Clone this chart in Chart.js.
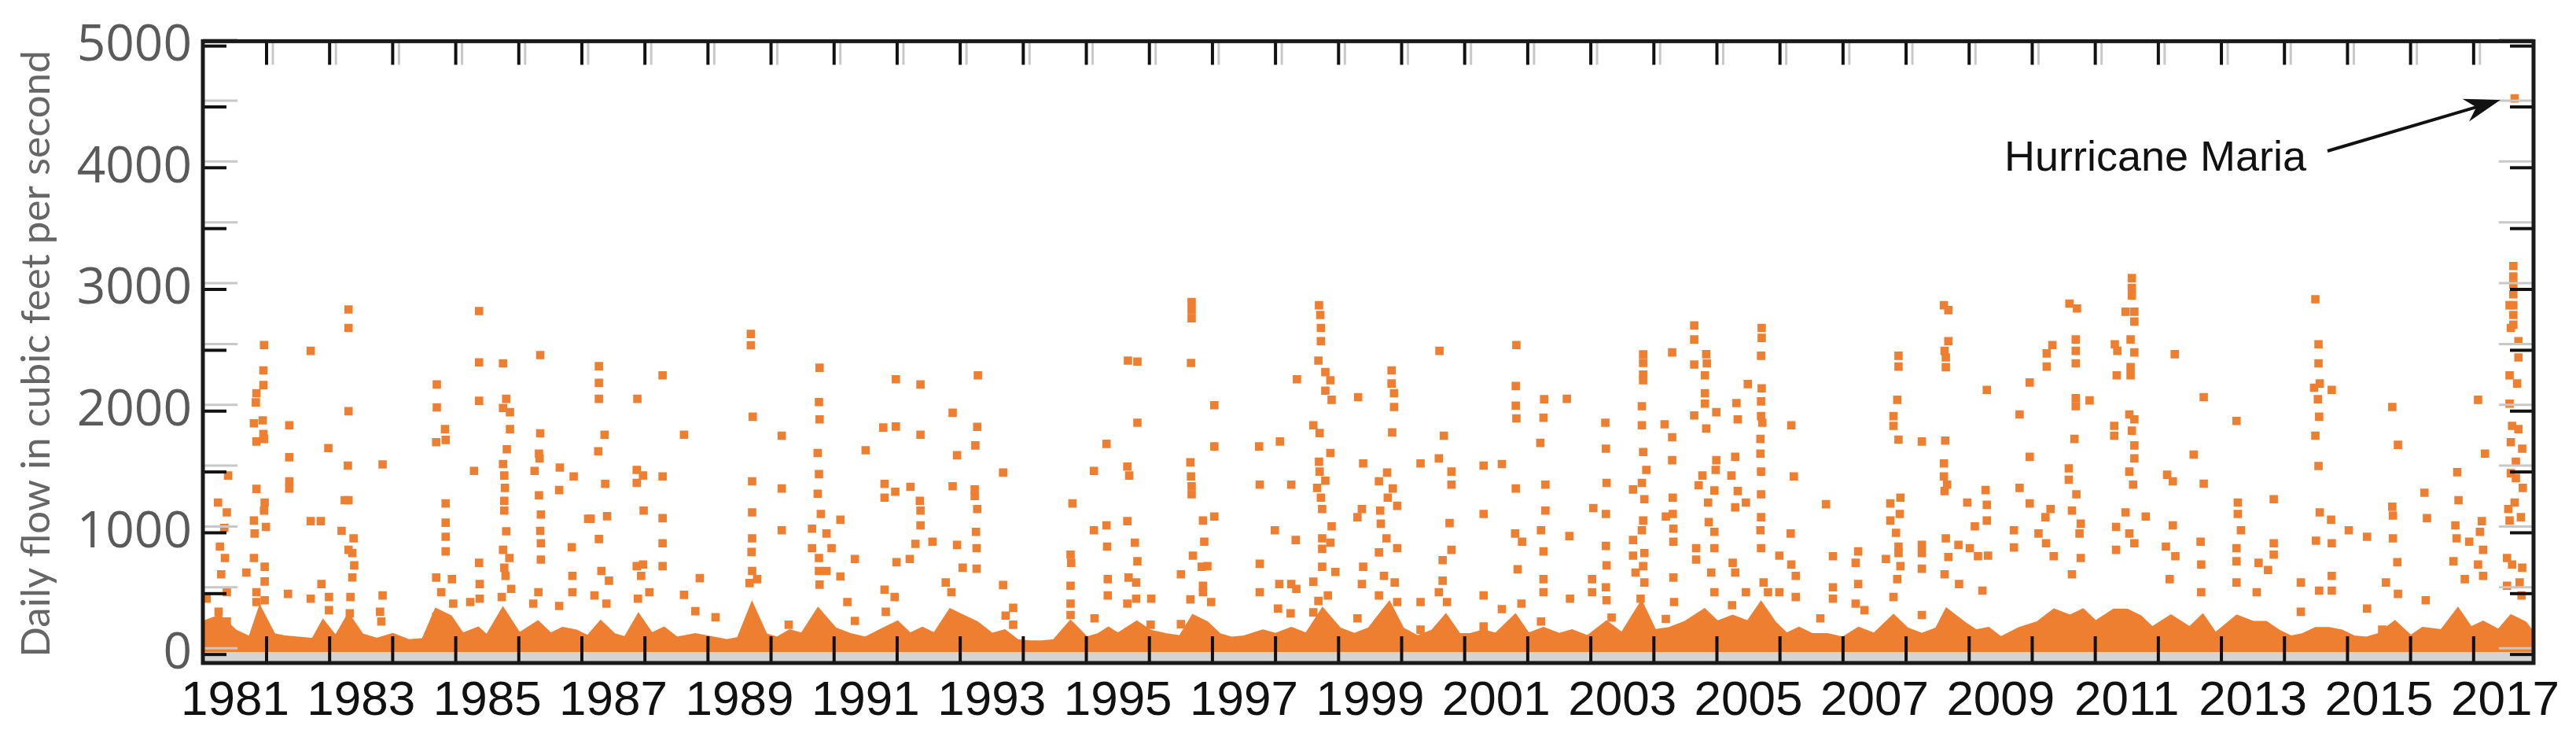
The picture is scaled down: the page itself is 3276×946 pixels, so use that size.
<!DOCTYPE html>
<html><head><meta charset="utf-8">
<script src="https://cdn.jsdelivr.net/npm/chart.js@4/dist/chart.umd.min.js"></script>
<style>html,body{margin:0;padding:0;background:#fff}#wrap{width:3276px;height:946px}</style>
</head><body><div id="wrap"><canvas id="c" width="3276" height="946"></canvas></div>
<script>
// ---- DATA (decimal year, cubic feet per second) ----
const yearLabels = [1981,1983,1985,1987,1989,1991,1993,1995,1997,1999,2001,2003,2005,2007,2009,2011,2013,2015,2017];
const flowTicks = [0,1000,2000,3000,4000,5000];
const hurricaneMaria = [[2017.15,4570]];
const baseflowTop = [[1980.49,250],[1980.75,300],[1981.0,180],[1981.25,120],[1981.4,350],[1981.6,150],[1981.8,130],[1982.0,120],[1982.25,110],[1982.4,250],[1982.6,120],[1982.8,300],[1983.0,150],[1983.25,110],[1983.5,150],[1983.75,100],[1984.0,110],[1984.2,350],[1984.4,300],[1984.6,150],[1984.85,200],[1985.0,130],[1985.25,350],[1985.5,150],[1985.8,250],[1986.0,150],[1986.2,200],[1986.4,180],[1986.6,130],[1986.8,250],[1987.0,150],[1987.2,120],[1987.4,300],[1987.6,150],[1987.8,200],[1988.0,120],[1988.3,150],[1988.6,120],[1988.8,100],[1989.0,120],[1989.2,380],[1989.4,150],[1989.6,120],[1989.8,180],[1990.0,150],[1990.25,350],[1990.5,200],[1990.75,150],[1991.0,120],[1991.3,200],[1991.5,250],[1991.7,150],[1991.9,200],[1992.1,150],[1992.35,350],[1992.55,300],[1992.75,250],[1993.0,150],[1993.2,180],[1993.4,100],[1993.6,90],[1993.8,90],[1994.0,100],[1994.25,250],[1994.5,120],[1994.7,150],[1994.85,200],[1995.0,150],[1995.3,250],[1995.5,180],[1995.75,150],[1996.0,130],[1996.2,300],[1996.4,250],[1996.6,150],[1996.8,120],[1997.0,130],[1997.3,180],[1997.5,150],[1997.75,200],[1998.0,150],[1998.25,350],[1998.5,200],[1998.75,150],[1999.0,200],[1999.3,400],[1999.5,200],[1999.75,130],[2000.0,180],[2000.2,300],[2000.4,150],[2000.6,150],[2000.8,180],[2001.0,150],[2001.3,300],[2001.5,150],[2001.75,200],[2002.0,150],[2002.2,180],[2002.45,130],[2002.75,250],[2003.0,150],[2003.3,400],[2003.5,180],[2003.75,200],[2004.0,250],[2004.3,350],[2004.5,250],[2004.75,300],[2005.0,250],[2005.2,400],[2005.4,250],[2005.6,150],[2005.8,200],[2006.0,150],[2006.25,150],[2006.5,120],[2006.75,200],[2007.0,150],[2007.3,300],[2007.5,200],[2007.75,150],[2008.0,200],[2008.15,350],[2008.4,250],[2008.6,180],[2008.8,200],[2009.0,120],[2009.3,200],[2009.6,250],[2009.85,350],[2010.1,300],[2010.3,350],[2010.5,250],[2010.8,350],[2011.0,350],[2011.2,300],[2011.4,200],[2011.7,300],[2012.0,200],[2012.2,300],[2012.4,150],[2012.75,300],[2013.0,250],[2013.2,250],[2013.4,180],[2013.6,130],[2013.8,150],[2014.0,200],[2014.2,200],[2014.4,180],[2014.6,130],[2014.8,120],[2015.0,150],[2015.25,250],[2015.5,130],[2015.7,200],[2016.0,180],[2016.25,350],[2016.45,200],[2016.65,250],[2016.9,180],[2017.1,300],[2017.3,250],[2017.45,150]];
const highFlowDays = [
[1980.89,1471],[1980.73,1249],[1980.87,1168],[1980.83,1040],[1980.76,887],[1980.84,793],[1980.78,659],[1980.87,512],[1980.55,458],[1980.74,351],[1980.87,271],
[1981.46,2543],[1981.45,2334],[1981.45,2214],[1981.34,2147],[1981.33,2072],[1981.44,1924],[1981.30,1900],[1981.45,1812],[1981.34,1750],[1981.46,1771],[1981.34,1361],[1981.47,1249],[1981.46,1182],[1981.30,1101],[1981.31,994],[1981.49,1048],[1981.30,793],[1981.47,721],[1981.18,673],[1981.47,600],[1981.34,512],[1981.47,445],[1981.34,431],
[1981.86,1884],[1981.86,1621],[1981.86,1423],[1981.86,1364],[1981.84,498],[1982.20,2495],[1982.20,1096],[1982.36,1096],[1982.20,458],[1982.48,1696],[1982.37,579],[1982.49,472],[1982.49,364],
[1982.80,2835],[1982.80,2683],[1982.80,1999],[1982.79,1552],[1982.74,1268],[1982.80,1268],[1982.69,1016],[1982.88,954],[1982.80,860],[1982.86,833],[1982.89,732],[1982.86,633],[1982.83,472],[1982.82,338],
[1983.34,1562],[1983.34,485],[1983.30,351],[1983.32,271],
[1984.20,2219],[1984.20,2031],[1984.33,1852],[1984.19,1745],[1984.34,1763],[1984.34,1241],[1984.34,1083],[1984.34,967],[1984.34,847],[1984.19,632],[1984.44,619],[1984.27,512],[1984.46,418],[1984.19,311],
[1984.87,2822],[1984.87,2401],[1984.87,2085],[1984.79,1509],[1984.87,753],[1984.88,579],[1984.88,458],[1984.73,431],
[1985.25,2393],[1985.30,2101],[1985.25,2026],[1985.36,1991],[1985.36,1852],[1985.31,1686],[1985.25,1565],[1985.27,1471],[1985.28,1369],[1985.27,1262],[1985.27,1182],[1985.30,1013],[1985.25,860],[1985.35,793],[1985.27,713],[1985.29,646],[1985.38,539],[1985.23,472],
[1985.84,2460],[1985.84,1817],[1985.82,1651],[1985.83,1611],[1985.75,1509],[1985.82,1308],[1985.85,1150],[1985.84,1016],[1985.85,914],[1985.85,780],[1985.81,512],[1985.73,418],
[1986.15,1536],[1986.14,1351],[1986.37,1463],[1986.34,882],[1986.35,646],[1986.35,512],[1986.14,399],[1986.60,1115],
[1986.77,2369],[1986.77,2232],[1986.77,2101],[1986.86,1806],[1986.76,1670],[1986.87,1402],[1986.90,1136],[1986.77,949],[1986.81,686],[1986.93,606],[1986.70,485],[1986.89,418],[1986.64,1115],
[1987.38,2101],[1987.37,1517],[1987.47,1471],[1987.37,1410],[1987.48,1182],[1987.37,726],[1987.47,740],[1987.44,646],[1987.57,512],[1987.39,458],
[1987.78,2294],[1987.78,1463],[1987.78,1120],[1987.78,914],[1987.78,726],[1988.12,1806],[1988.37,627],[1988.12,490],[1988.30,356],[1988.62,306],
[1989.18,2634],[1989.18,2541],[1989.21,1954],[1989.20,1423],[1989.20,1168],[1989.20,954],[1989.19,842],[1989.20,686],[1989.28,619],[1989.16,587],
[1989.67,1798],[1989.67,1364],[1989.67,1021],[1989.78,244],
[1990.27,2356],[1990.26,2074],[1990.27,1932],[1990.24,1656],[1990.26,1482],[1990.24,1321],[1990.29,1155],[1990.15,1034],[1990.38,994],[1990.60,1107],[1990.46,874],[1990.15,874],[1990.26,793],[1990.26,686],[1990.38,686],[1990.60,641],[1990.27,574],
[1990.83,785],[1990.71,431],[1990.83,276],[1991.00,1678],
[1991.48,2262],[1991.28,1865],[1991.48,1873],[1991.30,1402],[1991.47,1337],[1991.30,1289],[1991.49,758],[1991.30,533],[1991.32,351],[1991.46,472],
[1991.87,2219],[1991.87,1806],[1991.71,1378],[1991.86,1262],[1991.87,1182],[1991.87,1061],[1991.79,909],[1992.06,927],[1991.70,785],
[1992.38,1986],[1992.45,1637],[1992.38,1383],[1992.45,900],[1992.54,713],[1992.27,592],[1992.36,512],
[1992.78,2294],[1992.77,1871],[1992.74,1718],[1992.73,1356],[1992.73,1302],[1992.77,1195],[1992.75,1008],[1992.76,874],[1992.76,705],
[1993.18,1495],[1993.18,571],[1993.22,319],[1993.34,383],[1993.34,244],
[1994.28,1241],[1994.25,820],[1994.26,753],[1994.25,565],[1994.25,418],[1994.25,324],[1994.62,1509],[1994.62,1021],[1994.63,297],
[1994.82,1731],[1994.82,1061],[1994.83,887],[1994.84,619],[1994.84,485],
[1995.16,2415],[1995.31,2407],[1995.31,1905],[1995.15,1544],[1995.18,1471],[1995.15,1096],[1995.27,919],[1995.31,766],[1995.17,632],[1995.29,592],[1995.15,418],[1995.29,458],[1995.53,458],[1995.52,244],
[1996.17,2897],[1996.17,2830],[1996.17,2763],[1996.16,2396],[1996.15,1579],[1996.16,1463],[1996.17,1383],[1996.17,1316],
[1996.53,2048],[1996.53,1710],[1996.53,1134],[1996.35,1101],[1996.37,927],[1996.19,812],[1996.33,721],[1996.42,726],[1996.35,565],[1996.35,512],[1996.00,659],[1996.15,453],[1996.48,431],[1996.00,249],
[1997.24,1710],[1997.25,1396],[1997.25,745],[1997.25,512],[1997.49,1021],[1997.57,1750],[1997.75,1396],[1997.82,941],[1997.56,579],[1997.75,579],[1997.83,539],[1997.54,378],[1997.74,338],
[1998.19,2870],[1998.21,2790],[1998.22,2683],[1998.22,2575],[1998.18,2415],[1998.29,2321],[1998.37,2254],[1997.84,2262],[1998.29,2168],[1998.39,2093],[1998.10,1884],[1998.20,1820],[1998.37,1656],[1998.19,1584],[1998.20,1503],[1998.29,1428],[1998.16,1369],[1998.22,1289],[1998.24,1195],[1998.39,1053],[1998.24,954],[1998.37,919],[1998.24,868],[1998.24,721],[1998.45,678],[1998.10,598],[1998.33,485],[1998.18,440],[1998.10,346],
[1998.81,2115],[1998.89,1570],[1998.87,1195],[1998.80,1128],[1998.89,721],[1998.87,579],[1998.80,297],
[1999.34,2334],[1999.34,2227],[1999.38,2147],[1999.38,2034],[1999.35,1825],[1999.27,1495],[1999.14,1423],[1999.36,1364],[1999.28,1289],[1999.43,1222],[1999.16,1182],[1999.17,1075],[1999.26,954],[1999.43,874],[1999.14,839],[1999.22,646],[1999.39,592],[1999.14,485],[1999.43,431],
[1999.80,1570],[1999.80,431],[1999.80,204],
[2000.10,2495],[2000.17,1798],[2000.09,1611],[2000.29,1503],[2000.29,1396],[2000.26,1080],[2000.29,860],[2000.15,775],[2000.15,606],[2000.09,512],[2000.22,431],
[2000.80,1552],[2001.09,1565],[2000.80,1155],[2000.80,485],[2000.80,230],[2001.09,373],
[2001.32,2543],[2001.31,2206],[2001.31,2045],[2001.32,1940],[2001.31,1364],[2001.30,994],[2001.41,927],[2001.34,700],[2001.40,418],
[2001.76,2098],[2001.75,1946],[2001.70,1739],[2001.78,1396],[2001.78,1182],[2001.71,1021],[2001.75,847],[2001.75,619],[2001.75,512],[2001.71,271],
[2002.12,2101],[2002.16,973],[2002.17,458],[2002.54,1203],[2002.52,619],[2002.52,512],
[2002.73,1905],[2002.74,1691],[2002.75,1410],[2002.74,1155],[2002.74,892],[2002.75,732],[2002.74,552],[2002.75,445],[2002.83,303],
[2003.33,2466],[2003.33,2396],[2003.33,2300],[2003.33,2254],[2003.31,2040],[2003.31,1884],[2003.33,1664],[2003.38,1517],[2003.31,1410],[2003.17,1356],[2003.35,1276],[2003.33,1101],[2003.31,1021],[2003.17,941],[2003.35,833],[2003.17,812],[2003.33,726],[2003.21,673],[2003.35,592],[2003.29,458],
[2003.79,2482],[2003.67,1892],[2003.79,1785],[2003.79,1597],[2003.80,1289],[2003.69,1134],[2003.80,1155],[2003.81,1034],[2003.81,927],[2003.81,632],[2003.82,431],[2003.69,292],
[2004.14,2704],[2004.14,2589],[2004.33,2468],[2004.14,2383],[2004.34,2393],[2004.31,2294],[2004.31,2147],[2004.31,2061],[2004.14,1964],[2004.49,1991],[2004.33,1857],[2004.49,1597],[2004.27,1471],[2004.48,1517],[2004.21,1391],[2004.46,1348],[2004.36,1249],[2004.37,1088],[2004.46,1008],[2004.17,874],[2004.46,874],[2004.17,780],[2004.41,673],[2004.46,512],
[2004.81,2066],[2004.83,1932],[2004.99,2222],[2004.79,1624],[2004.73,1471],[2004.83,1343],[2004.79,1209],[2004.96,1249],[2004.75,753],[2004.79,673],[2004.74,405],[2004.96,512],
[2005.21,2683],[2005.21,2602],[2005.20,2455],[2005.21,2187],[2005.20,2080],[2005.20,1959],[2005.22,1905],[2005.19,1771],[2005.19,1651],[2005.20,1503],[2005.20,1316],[2005.20,1128],[2005.19,1021],[2005.20,874],[2005.24,592],[2005.31,512],
[2005.68,1884],[2005.72,1463],[2005.67,994],[2005.49,812],[2005.68,740],[2005.75,646],[2005.75,472],[2005.49,512],
[2006.23,1235],[2006.34,807],[2006.34,552],[2006.34,458],[2006.14,297],[2006.74,847],[2006.70,753],[2006.74,579],[2006.70,418],[2006.84,364],
[2007.38,2455],[2007.38,2366],[2007.36,2093],[2007.30,1959],[2007.30,1879],[2007.38,1766],[2007.41,1289],[2007.25,1241],[2007.40,1155],[2007.25,1101],[2007.34,1000],[2007.38,887],[2007.38,833],[2007.18,785],[2007.41,726],[2007.36,619],[2007.30,472],
[2007.75,1750],[2007.75,900],[2007.75,833],[2007.75,705],[2007.75,324],
[2008.10,2870],[2008.17,2830],[2008.17,2575],[2008.11,2495],[2008.13,2441],[2008.13,2361],[2008.12,1758],[2008.10,1570],[2008.10,1463],[2008.15,1396],[2008.11,1343],[2008.13,954],[2008.33,900],[2008.51,874],[2008.64,807],[2008.17,801],[2008.11,659],[2008.34,579],[2008.47,1249],[2008.59,1053],
[2008.78,2174],[2008.76,1351],[2008.78,1230],[2008.78,1101],[2008.80,812],[2008.71,525],
[2009.46,2235],[2009.30,1972],[2009.46,1624],[2009.30,1369],[2009.46,1241],[2009.21,1021],[2009.21,879],[2009.60,994],[2009.72,914],
[2009.73,2474],[2009.82,2543],[2009.73,2366],[2009.79,1195],[2009.71,1128],[2009.84,807],
[2010.09,2884],[2010.21,2843],[2010.19,2589],[2010.19,2495],[2010.19,2393],[2010.19,2107],[2010.19,2040],[2010.41,2088],[2010.17,1771],[2010.08,1530],[2010.08,1436],[2010.20,1316],[2010.13,1182],[2010.27,1075],[2010.25,994],[2010.27,793],[2010.13,659],
[2011.08,3093],[2011.08,3013],[2011.08,2951],[2011.12,2817],[2010.98,2817],[2011.12,2736],[2010.81,2549],[2010.85,2495],[2011.12,2482],[2010.84,2294],[2011.06,2589],[2011.06,2361],[2011.06,2294],[2011.04,1972],[2011.12,1932],[2010.80,1879],[2010.80,1798],[2011.08,1839],[2011.12,1718],[2011.12,1611],[2011.04,1503],[2011.10,1396],[2010.98,1168],[2011.30,1134],[2010.83,1048],[2011.04,994],[2011.12,914],[2010.83,860],
[2011.76,2468],[2012.22,2115],[2012.06,1643],[2011.64,1477],[2011.73,1423],[2012.22,1404],[2011.73,1061],[2011.62,887],[2012.17,927],[2011.77,807],[2012.18,740],[2011.68,619],[2012.18,512],
[2012.74,1919],[2012.76,1249],[2012.76,1155],[2012.81,1021],[2012.74,874],[2012.74,766],[2012.74,592],[2013.09,753],[2013.24,694],[2013.33,1276],[2013.33,914],[2013.33,820],[2013.06,512],[2013.76,592],[2013.76,351],
[2013.99,2919],[2014.04,2549],[2014.04,2393],[2014.06,2227],[2013.97,2192],[2014.25,2174],[2014.03,2098],[2014.05,1954],[2013.99,1798],[2014.04,1549],[2014.06,1168],[2014.24,1107],[2014.00,935],[2014.25,914],[2014.25,646],[2014.05,525],[2014.25,525],[2014.52,1021],[2014.81,967],[2014.81,378],
[2015.21,2034],[2015.30,1723],[2015.21,1214],[2015.22,1142],[2015.22,954],[2015.29,758],[2015.11,592],[2015.30,498],[2015.05,204],[2015.72,1329],[2015.76,1120],[2015.74,445],
[2016.24,1498],[2016.26,1268],[2016.21,1061],[2016.23,954],[2016.43,927],[2016.18,766],[2016.36,619],[2016.57,2093],[2016.68,1651],[2016.63,1096],[2016.60,1008],[2016.65,860],[2016.57,740],[2016.65,646],
[2017.13,3192],[2017.13,3107],[2017.13,3040],[2017.13,2960],[2017.13,2870],[2017.13,2790],[2017.13,2710],[2017.07,2870],[2017.09,2683],[2017.21,2575],[2017.21,2441],[2017.07,2294],[2017.19,2227],[2017.07,2061],[2017.11,1879],[2017.21,1852],[2017.09,1745],[2017.27,1691],[2017.17,1584],[2017.09,1490],[2017.17,1450],[2017.28,1369],[2017.15,1249],[2017.05,1195],[2017.25,1128],[2017.07,1101],[2017.03,793],[2017.11,740],[2017.27,713],[2017.23,592],[2017.03,565],[2017.26,485]
];
const annotationText = "Hurricane Maria";
const yTitle = "Daily flow in cubic feet per second";

// ---- CHART ----
const ORANGE = 'rgb(238,126,48)';
const toXY = a => a.map(p => ({x:p[0], y:p[1]}));
const X_MIN = 1980.49, X_MAX = 2017.45;

const framePlugin = {
  id:'frame',
  afterDatasetsDraw(chart){
    const {ctx, chartArea:a, scales:{x,y}} = chart;
    ctx.save();
    for (let yr = 1981; yr <= 2016; yr++) {
      const px = x.getPixelForValue(yr + 0.5);
      ctx.strokeStyle = '#c8c8c8'; ctx.lineWidth = 3;
      ctx.beginPath(); ctx.moveTo(px+8, a.top); ctx.lineTo(px+8, a.top+30); ctx.stroke();
      ctx.strokeStyle = '#111'; ctx.lineWidth = 4;
      ctx.beginPath(); ctx.moveTo(px, a.top); ctx.lineTo(px, a.top+30); ctx.stroke();
      ctx.beginPath(); ctx.moveTo(px, a.bottom); ctx.lineTo(px, a.bottom-34); ctx.stroke();
    }
    for (let v = 0; v <= 5000; v += 500) {
      const py = y.getPixelForValue(v);
      ctx.strokeStyle = '#c8c8c8'; ctx.lineWidth = 3;
      ctx.beginPath(); ctx.moveTo(a.left, py-8); ctx.lineTo(a.left+44, py-8); ctx.stroke();
      ctx.beginPath(); ctx.moveTo(a.right, py-8); ctx.lineTo(a.right-44, py-8); ctx.stroke();
      ctx.strokeStyle = '#111'; ctx.lineWidth = 4;
      ctx.beginPath(); ctx.moveTo(a.left, py); ctx.lineTo(a.left+30, py); ctx.stroke();
      ctx.beginPath(); ctx.moveTo(a.right, py); ctx.lineTo(a.right-30, py); ctx.stroke();
    }
    ctx.strokeStyle = '#1a1a1a'; ctx.lineWidth = 5;
    ctx.strokeRect(a.left, a.top, a.right-a.left, a.bottom-a.top);
    ctx.fillStyle = '#666'; ctx.font = '51px Lato';
    ctx.textAlign = 'center'; ctx.textBaseline = 'middle';
    ctx.translate(47, 450); ctx.rotate(-Math.PI/2);
    ctx.fillText(yTitle, 0, 0);
    ctx.restore();
    ctx.save();
    const mx = x.getPixelForValue(hurricaneMaria[0][0]), my = y.getPixelForValue(hurricaneMaria[0][1]);
    ctx.fillStyle = '#111'; ctx.font = '54px "Liberation Sans"';
    ctx.textAlign = 'left'; ctx.textBaseline = 'middle';
    ctx.fillText(annotationText, 2549, 202);
    const x0 = 2960, y0 = 192, x1 = mx - 18, y1 = my + 2;
    const ang = Math.atan2(y1-y0, x1-x0);
    ctx.strokeStyle = '#111'; ctx.lineWidth = 4;
    ctx.beginPath(); ctx.moveTo(x0,y0); ctx.lineTo(x1 - 30*Math.cos(ang), y1 - 30*Math.sin(ang)); ctx.stroke();
    ctx.beginPath();
    ctx.moveTo(x1, y1);
    ctx.lineTo(x1 - 46*Math.cos(ang) + 15*Math.sin(ang), y1 - 46*Math.sin(ang) - 15*Math.cos(ang));
    ctx.lineTo(x1 - 32*Math.cos(ang), y1 - 32*Math.sin(ang));
    ctx.lineTo(x1 - 46*Math.cos(ang) - 15*Math.sin(ang), y1 - 46*Math.sin(ang) + 15*Math.cos(ang));
    ctx.closePath(); ctx.fillStyle = '#111'; ctx.fill();
    ctx.restore();
  }
};

new Chart(document.getElementById('c'), {
  data: {
    datasets: [
      {type:'line', label:'low band', data:[{x:X_MIN,y:30},{x:X_MAX,y:30}], borderWidth:0, pointRadius:0,
       backgroundColor:'#d4d4d4', fill:'start', order:3},
      {type:'line', label:'baseflow', data:toXY(baseflowTop), borderColor:ORANGE, borderWidth:8, pointRadius:0,
       tension:0, backgroundColor:ORANGE, fill:{value:20}, order:2},
      {type:'scatter', label:'daily flow', data:toXY(highFlowDays), pointStyle:'rect', pointRadius:7.5,
       backgroundColor:ORANGE, borderWidth:0, order:1},
      {type:'scatter', label:'Maria', data:toXY(hurricaneMaria), pointStyle:'rect', pointRadius:7.5,
       backgroundColor:ORANGE, borderWidth:0, order:0}
    ]
  },
  options: {
    responsive:false, animation:false, devicePixelRatio:1,
    layout:{padding:{top:51, right:54, left:0, bottom:0}},
    plugins:{legend:{display:false}, tooltip:{enabled:false}},
    scales:{
      x:{type:'linear', min:X_MIN, max:X_MAX,
         afterBuildTicks:s=>{s.ticks = yearLabels.map(v=>({value:v}));},
         afterFit:s=>{s.height = 103;},
         grid:{display:false, drawTicks:false}, border:{display:false},
         ticks:{color:'#111', font:{family:'Liberation Sans', size:62}, padding:12, maxRotation:0, autoSkip:false,
                callback:v=>String(v)}},
      y:{min:-70, max:5040,
         afterBuildTicks:s=>{s.ticks = flowTicks.map(v=>({value:v}));},
         afterFit:s=>{s.width = 258;},
         grid:{display:false, drawTicks:false}, border:{display:false},
         ticks:{color:'#5a5a5a', font:{family:'Open Sans', size:64}, padding:14, callback:v=>String(v)}}
    }
  },
  plugins:[framePlugin]
});
</script></body></html>
